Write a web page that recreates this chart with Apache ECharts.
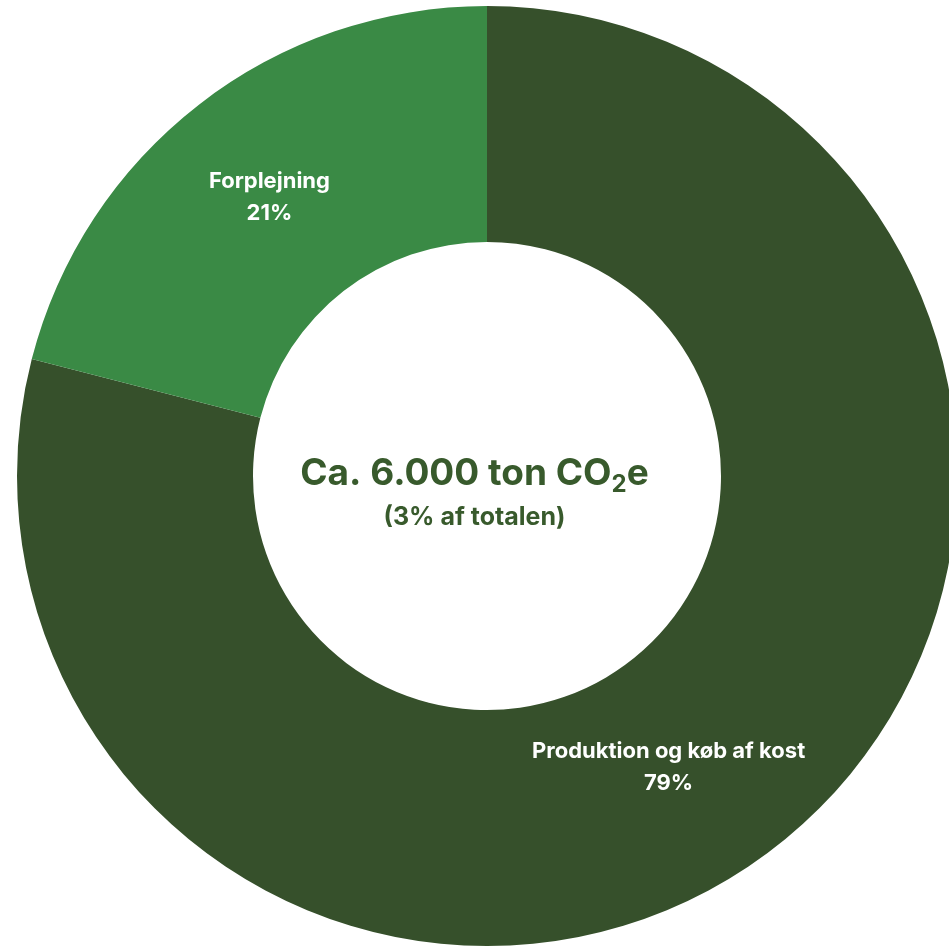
<!DOCTYPE html>
<html>
<head>
<meta charset="utf-8">
<script src="https://cdn.jsdelivr.net/npm/echarts@6/dist/echarts.min.js"></script>
<style>
html,body{margin:0;padding:0;background:#fff;}
#main{width:949px;height:947px;}
</style>
</head>
<body>
<div id="main"></div>
<script>
const categories = ['Produktion og køb af kost', 'Forplejning'];
const values = [79, 21];
const sliceColors = ['#36502b', '#3a8a45'];
const centerLine1 = ['Ca. 6.000 ton CO', '2', 'e'];
const centerLine2 = '(3% af totalen)';

const chart = echarts.init(document.getElementById('main'), null, {renderer: 'canvas'});
const FONT = 'Inter, "Open Sans", "DejaVu Sans", sans-serif';
const labelShift = [[-36, 11], [0, 2]];

chart.setOption({
  animation: false,
  series: [{
    type: 'pie',
    center: [487, 476],
    radius: [234, 470],
    startAngle: 90,
    clockwise: true,
    avoidLabelOverlap: false,
    itemStyle: {borderWidth: 0},
    label: {
      show: true,
      position: 'inside',
      formatter: '{b}\n{d}%',
      color: '#ffffff',
      fontFamily: FONT,
      fontWeight: 'bold',
      fontSize: 22,
      lineHeight: 32,
      align: 'center'
    },
    labelLayout: function (p) {
      const s = labelShift[p.dataIndex] || [0, 0];
      return {dx: s[0], dy: s[1]};
    },
    emphasis: {disabled: true},
    data: categories.map((c, i) => ({
      name: c,
      value: values[i],
      itemStyle: {color: sliceColors[i]}
    }))
  }],
  graphic: [{
    type: 'text',
    left: 'center',
    top: 455,
    style: {
      text: '{m|' + centerLine1[0] + '}{s|' + centerLine1[1] + '}{m|' + centerLine1[2] + '}',
      rich: {
        m: {fontFamily: FONT, fontWeight: 'bold', fontSize: 37, fill: '#385a2c', lineHeight: 46, verticalAlign: 'middle'},
        s: {fontFamily: FONT, fontWeight: 'bold', fontSize: 24, fill: '#385a2c', lineHeight: 46, verticalAlign: 'bottom', padding: [15, 0, 0, 0]}
      }
    }
  }, {
    type: 'text',
    left: 'center',
    top: 505,
    style: {
      text: centerLine2,
      fontFamily: FONT,
      fontWeight: 'bold',
      fontSize: 25,
      fill: '#385a2c'
    }
  }]
});
</script>
</body>
</html>
